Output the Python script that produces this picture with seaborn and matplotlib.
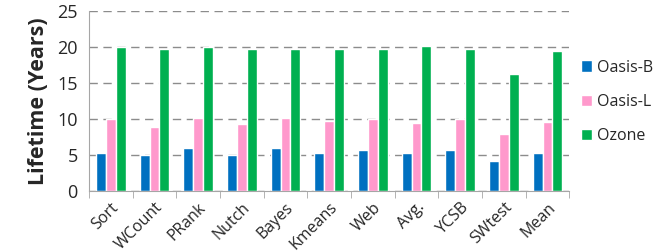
import seaborn as sns
import matplotlib.pyplot as plt
import pandas as pd

workloads = ["Sort", "WCount", "PRank", "Nutch", "Bayes", "Kmeans", "Web", "Avg.", "YCSB", "SWtest", "Mean"]
oasis_b = [5.3, 5.05, 6.0, 5.05, 6.0, 5.3, 5.7, 5.3, 5.7, 4.2, 5.3]
oasis_l = [9.95, 8.9, 10.2, 9.25, 10.1, 9.75, 9.95, 9.45, 9.95, 7.95, 9.6]
ozone = [19.95, 19.8, 19.95, 19.8, 19.8, 19.8, 19.8, 20.1, 19.8, 16.25, 19.5]
series = ["Oasis-B", "Oasis-L", "Ozone"]
colors = ["#0070C0", "#FF99CC", "#00B050"]


def createBarPlot():
    df = pd.DataFrame({"workload": workloads * 3,
                       "system": [s for s in series for _ in workloads],
                       "lifetime": oasis_b + oasis_l + ozone})

    sns.set_style("white")
    plt.rcParams['font.family'] = ['Open Sans', 'DejaVu Sans']

    fig = plt.figure(figsize=(6.69, 2.52), dpi=100)
    ax = fig.add_axes([0.133, 0.242, 0.718, 0.714])

    sns.barplot(data=df, x="workload", y="lifetime", hue="system", palette=colors,
                saturation=1, width=0.68, edgecolor="white", linewidth=1, ax=ax)

    ax.set_ylim(0, 25)
    ax.set_xlim(-0.5, len(workloads) - 0.5)
    ax.set_yticks([0, 5, 10, 15, 20, 25])
    ax.yaxis.grid(True, linestyle=(0, (6, 4)), color="#8c8c8c", linewidth=1)
    ax.set_axisbelow(True)

    for side in ["top", "right"]:
        ax.spines[side].set_visible(False)
    ax.spines["left"].set_color("#a6a6a6")
    ax.spines["bottom"].set_color("#a6a6a6")

    ax.set_xticks(range(len(workloads)))
    ax.set_xticklabels(workloads, rotation=45, ha="right", rotation_mode="anchor", fontsize=11.5)
    ax.tick_params(axis="x", which="major", length=0, pad=6)
    ax.set_xticks([i + 0.5 for i in range(-1, len(workloads))], minor=True)
    ax.tick_params(axis="x", which="minor", length=5, color="#a6a6a6", bottom=True)
    ax.tick_params(axis="y", labelsize=13, length=0, pad=8)

    ax.set_xlabel("")
    ax.set_ylabel("Lifetime (Years)", fontsize=15.5, fontweight="bold", labelpad=6)

    ax.legend(loc="upper left", bbox_to_anchor=(0.995, 0.81), frameon=False, fontsize=11.5,
              handlelength=0.7, handleheight=0.7, labelspacing=1.15, handletextpad=0.3)

    fig.savefig("out.png", dpi=100)


if __name__ == '__main__':
    createBarPlot()
